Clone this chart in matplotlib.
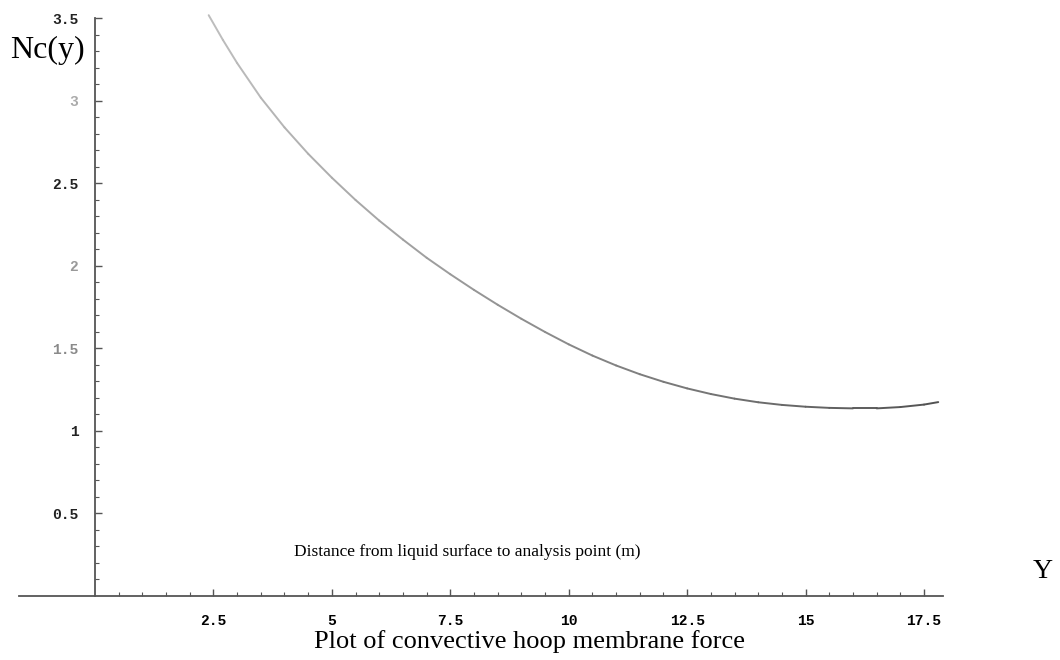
import matplotlib
matplotlib.use("Agg")
import matplotlib.pyplot as plt
import numpy as np
from matplotlib.collections import LineCollection
from matplotlib.colors import LinearSegmentedColormap, Normalize

# distance from liquid surface (m) and convective hoop membrane force
y_dist = [2.4, 2.7, 3.0, 3.5, 4.0, 4.5, 5.0, 5.5, 6.0, 6.5, 7.0, 7.5, 8.0,
          8.5, 9.0, 9.5, 10.0, 10.5, 11.0, 11.5, 12.0, 12.5, 13.0, 13.5,
          14.0, 14.5, 15.0, 15.5, 16.0, 16.5, 17.0, 17.5, 17.8]
nc_vals = [3.52, 3.37, 3.23, 3.02, 2.84, 2.68, 2.535, 2.40, 2.275, 2.16,
           2.05, 1.95, 1.855, 1.765, 1.68, 1.60, 1.525, 1.457, 1.397, 1.344,
           1.298, 1.258, 1.224, 1.196, 1.174, 1.158, 1.147, 1.140, 1.137,
           1.137, 1.145, 1.16, 1.175]

x_ticks = [2.5, 5, 7.5, 10, 12.5, 15, 17.5]
x_labels = ["2.5", "5", "7.5", "10", "12.5", "15", "17.5"]
y_ticks = [0.5, 1, 1.5, 2, 2.5, 3, 3.5]
y_labels = ["0.5", "1", "1.5", "2", "2.5", "3", "3.5"]
y_label_colors = ["#222222", "#222222", "#8a8a8a", "#999999", "#222222", "#aaaaaa", "#222222"]

fig = plt.figure(figsize=(10.6, 6.6), dpi=100)
ax = fig.add_axes([0.0181, 0.097, 0.8715, 0.8875])
ax.set_xlim(-1.6, 17.9)
ax.set_ylim(0, 3.55)

# curve, lighter on the left like the scanned original
pts = np.column_stack([y_dist, nc_vals]).reshape(-1, 1, 2)
segs = np.concatenate([pts[:-1], pts[1:]], axis=1)
cmap = LinearSegmentedColormap.from_list("scan", ["#bdbdbd", "#505050"])
lc = LineCollection(segs, cmap=cmap, norm=Normalize(2.4, 17.8), linewidth=1.4,
                    capstyle="round", joinstyle="round")
lc.set_array(np.array(y_dist[:-1]))
ax.add_collection(lc)

for s in ["top", "right"]:
    ax.spines[s].set_visible(False)
ax.spines["left"].set_position(("data", 0))
ax.spines["left"].set_bounds(0, 3.5)
ax.spines["left"].set_color("#555555")
ax.spines["bottom"].set_color("#555555")
ax.spines["left"].set_linewidth(1.3)
ax.spines["bottom"].set_linewidth(1.3)

ax.set_xticks(x_ticks, x_labels)
ax.set_xticks(np.arange(0.5, 17.6, 0.5), minor=True)
ax.set_yticks(y_ticks, y_labels)
ax.set_yticks(np.arange(0.1, 3.5, 0.1), minor=True)
ax.tick_params(which="both", direction="in", color="#555555")
ax.tick_params(which="major", length=5, width=1)
ax.tick_params(which="minor", length=3, width=0.8)
ax.tick_params(axis="x", pad=13)
ax.tick_params(axis="y", pad=12)
for lab in ax.get_xticklabels() + ax.get_yticklabels():
    lab.set_fontfamily("Liberation Mono")
    lab.set_fontweight("bold")
    lab.set_fontsize(10.5)
for lab, c in zip(ax.get_yticklabels(), y_label_colors):
    lab.set_color(c)

serif = "Liberation Serif"
fig.text(10 / 1060, 1 - 50 / 660, "Nc(y)", fontfamily=serif, fontsize=23,
         ha="left", va="center")
fig.text(1043 / 1060, 1 - 572 / 660, "Y", fontfamily=serif, fontsize=20,
         ha="center", va="center")
fig.text(467 / 1060, 1 - 552 / 660, "Distance from liquid surface to analysis point (m)",
         fontfamily=serif, fontsize=12.5, ha="center", va="center")
fig.text(530 / 1060, 1 - 642 / 660, "Plot of convective hoop membrane force",
         fontfamily=serif, fontsize=19, ha="center", va="center")

fig.savefig("out.png", dpi=100, facecolor="white")
